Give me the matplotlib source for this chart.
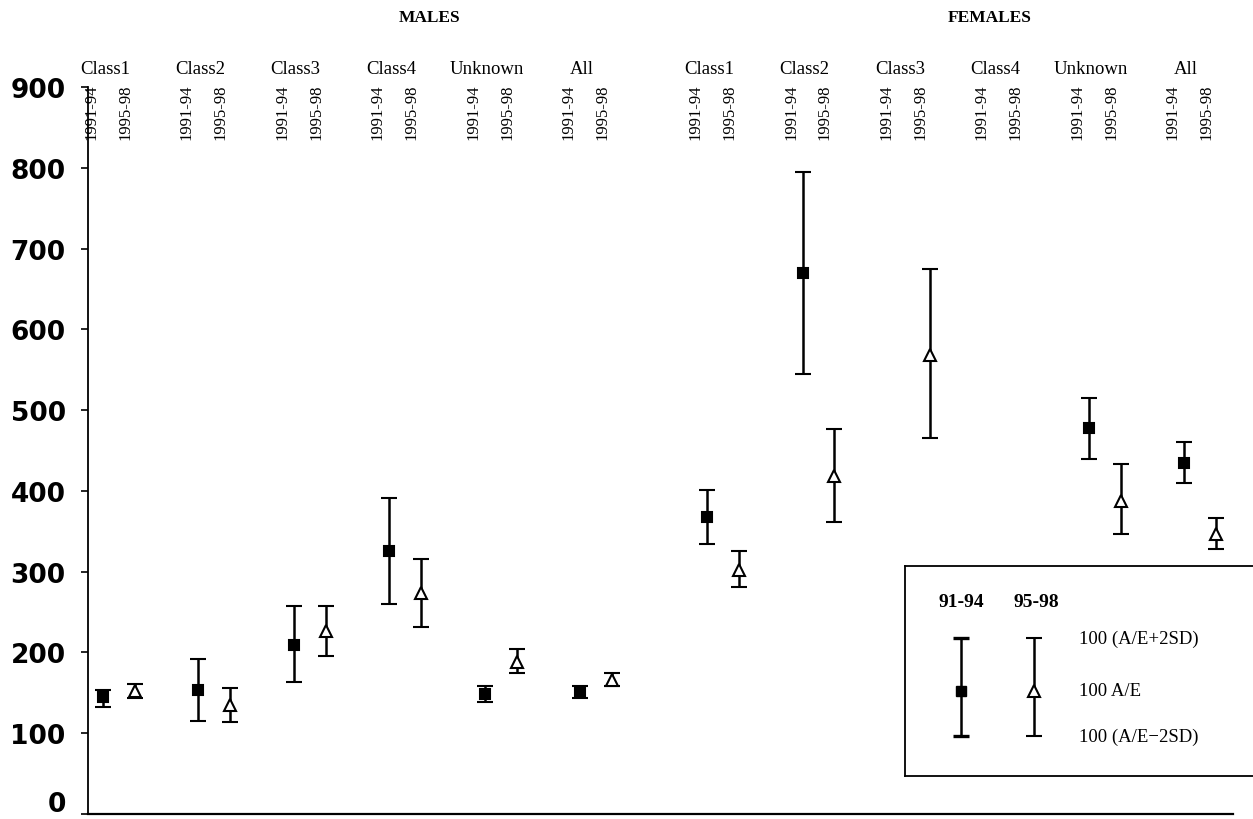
import numpy as np
import matplotlib
matplotlib.use('Agg')
import matplotlib.pyplot as plt
from matplotlib.transforms import blended_transform_factory, ScaledTranslation

# 100 A/E with +/- 2SD limits
classes = ['Class1', 'Class2', 'Class3', 'Class4', 'Unknown', 'All']
periods = ['1991-94', '1995-98']

male_9194 = [145, 153, 209, 325, 149, 151]
male_9194_lo = [133, 115, 163, 260, 139, 144]
male_9194_hi = [153, 192, 257, 391, 159, 158]
male_9598 = [152, 135, 226, 273, 188, 166]
male_9598_lo = [144, 114, 196, 232, 174, 159]
male_9598_hi = [161, 156, 257, 316, 204, 174]

nan = np.nan
female_9194 = [368, 670, nan, nan, 478, 435]
female_9194_lo = [334, 545, nan, nan, 440, 410]
female_9194_hi = [401, 795, nan, nan, 515, 460]
female_9598 = [302, 418, 568, nan, 388, 347]
female_9598_lo = [281, 362, 465, nan, 347, 328]
female_9598_hi = [325, 477, 675, nan, 433, 366]

yticks = [0, 100, 200, 300, 400, 500, 600, 700, 800, 900]

serif = 'Liberation Serif'

fig = plt.figure(figsize=(12.53, 8.2), dpi=100)
ax = fig.add_axes([0.0702, 0.0061, 0.9138, 0.8866])

male_x = np.arange(len(classes), dtype=float)
female_x = male_x + 6.33
off = 0.335


def draw(x, vals, lo, hi, marker, face):
    vals = np.array(vals, dtype=float)
    lo = np.array(lo, dtype=float)
    hi = np.array(hi, dtype=float)
    ok = ~np.isnan(vals)
    ax.errorbar(x[ok], vals[ok], yerr=[vals[ok] - lo[ok], hi[ok] - vals[ok]],
                fmt=marker, color='black', mfc=face, mec='black', ms=7 if marker == 's' else 9,
                mew=1.5, elinewidth=1.8, capsize=5.5, capthick=2.4, zorder=3)


draw(male_x, male_9194, male_9194_lo, male_9194_hi, 's', 'black')
draw(male_x + off, male_9598, male_9598_lo, male_9598_hi, '^', 'white')
draw(female_x, female_9194, female_9194_lo, female_9194_hi, 's', 'black')
draw(female_x + off, female_9598, female_9598_lo, female_9598_hi, '^', 'white')

ax.set_xlim(-0.157, 11.84)
ax.set_ylim(0, 900)
ax.set_yticks(yticks)
ax.set_yticklabels([str(t) for t in yticks], fontfamily='DejaVu Sans',
                   fontweight='bold', fontsize=19)
ax.tick_params(axis='y', direction='out', length=5, width=1.2, pad=11)
# keep the "0" inside the picture
lab0 = ax.get_yticklabels()[0]
lab0.set_transform(lab0.get_transform() + ScaledTranslation(0, 9 / 72, fig.dpi_scale_trans))
ax.set_xticks([])
ax.spines['top'].set_visible(False)
ax.spines['right'].set_visible(False)
ax.spines['left'].set_linewidth(1.3)
ax.spines['bottom'].set_linewidth(1.6)

# header texts
tr = blended_transform_factory(ax.transData, fig.transFigure)
for xs in (male_x, female_x):
    for i, c in enumerate(classes):
        ax.text(xs[i] + 0.02, 1 - 70 / 820, c, transform=tr, ha='center', va='center',
                fontfamily=serif, fontsize=13.5)
        ax.text(xs[i] - 0.12, 1 - 84 / 820, periods[0], transform=tr, rotation=90,
                ha='center', va='top', fontfamily=serif, fontsize=12)
        ax.text(xs[i] + off - 0.1, 1 - 84 / 820, periods[1], transform=tr, rotation=90,
                ha='center', va='top', fontfamily=serif, fontsize=12)

fig.text(430 / 1253, 1 - 18 / 820, 'MALES', ha='center', va='center',
         fontfamily=serif, fontweight='bold', fontsize=12.5)
fig.text(990 / 1253, 1 - 18 / 820, 'FEMALES', ha='center', va='center',
         fontfamily=serif, fontweight='bold', fontsize=12.5)

# key box
leg = fig.add_axes([905 / 1253, 1 - 777 / 820, 0.29, 210 / 820])
leg.set_xlim(0, 1)
leg.set_ylim(0, 1)
leg.set_xticks([])
leg.set_yticks([])
leg.spines['right'].set_visible(False)
for s in ('top', 'left', 'bottom'):
    leg.spines[s].set_linewidth(1.3)
key_lo, key_mid, key_hi = 0.19, 0.405, 0.657
leg.errorbar([0.155], [key_mid], yerr=[[key_mid - key_lo], [key_hi - key_mid]], fmt='s',
             color='black', mfc='black', ms=7, elinewidth=1.8, capsize=5.5, capthick=2.4)
leg.errorbar([0.355], [key_mid], yerr=[[key_mid - key_lo], [key_hi - key_mid]], fmt='^',
             color='black', mfc='white', mec='black', ms=9, mew=1.5, elinewidth=1.8,
             capsize=5.5, capthick=2.4)
leg.text(0.155, 0.83, '91-94', ha='center', va='center', fontfamily=serif,
         fontweight='bold', fontsize=14)
leg.text(0.36, 0.83, '95-98', ha='center', va='center', fontfamily=serif,
         fontweight='bold', fontsize=14)
leg.text(0.48, key_hi, '100 (A/E+2SD)', ha='left', va='center', fontfamily=serif, fontsize=13.5)
leg.text(0.48, key_mid, '100 A/E', ha='left', va='center', fontfamily=serif, fontsize=13.5)
leg.text(0.48, key_lo, '100 (A/E\u22122SD)', ha='left', va='center', fontfamily=serif, fontsize=13.5)

fig.savefig('out.png', dpi=100)
